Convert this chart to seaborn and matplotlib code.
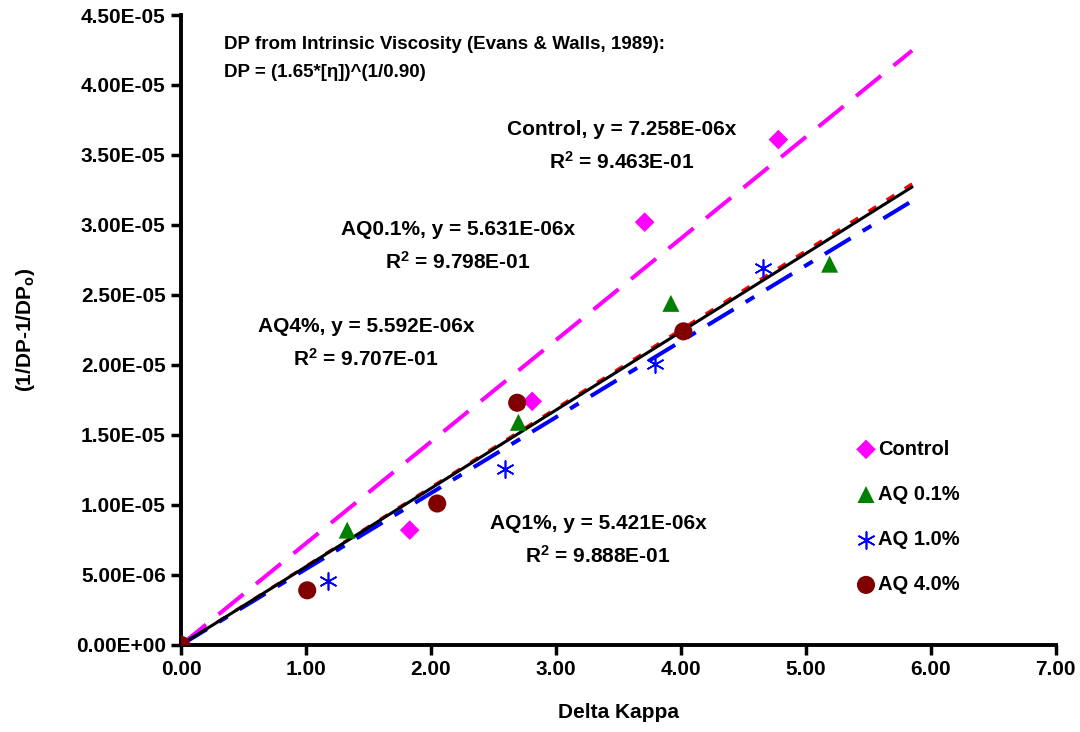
import numpy as np
import pandas as pd
import matplotlib
matplotlib.use('Agg')
import matplotlib.pyplot as plt
import seaborn as sns

# measured points (Delta Kappa, 1/DP - 1/DPo)
control_x = [0.0, 1.83, 2.81, 3.71, 4.78]
control_y = [0.0, 8.2e-6, 1.74e-5, 3.02e-5, 3.61e-5]
aq01_x = [0.0, 1.33, 2.70, 3.92, 5.19]
aq01_y = [0.0, 8.2e-6, 1.59e-5, 2.44e-5, 2.72e-5]
aq10_x = [0.0, 1.18, 2.59, 3.79, 4.66]
aq10_y = [0.0, 4.6e-6, 1.26e-5, 2.01e-5, 2.69e-5]
aq40_x = [0.0, 1.01, 2.05, 2.69, 4.02]
aq40_y = [0.0, 3.9e-6, 1.01e-5, 1.73e-5, 2.24e-5]

series_names = ['Control', 'AQ 0.1%', 'AQ 1.0%', 'AQ 4.0%']
# trendline slopes (forced through origin) and R^2 from the labels
slopes = [7.258e-6, 5.631e-6, 5.421e-6, 5.592e-6]
r2 = ['9.463E-01', '9.798E-01', '9.888E-01', '9.707E-01']
fit_x = [0.0, 5.85]

x_ticks = [0, 1, 2, 3, 4, 5, 6, 7]
y_ticks = [0, 5e-6, 1e-5, 1.5e-5, 2e-5, 2.5e-5, 3e-5, 3.5e-5, 4e-5, 4.5e-5]

sns.set_style('white')
plt.rcParams['font.family'] = ['Liberation Sans', 'DejaVu Sans']
plt.rcParams['font.weight'] = 'bold'
plt.rcParams['text.color'] = 'black'
plt.rcParams['axes.labelcolor'] = 'black'
plt.rcParams['xtick.color'] = 'black'
plt.rcParams['ytick.color'] = 'black'
plt.rcParams['mathtext.fontset'] = 'custom'
plt.rcParams['mathtext.rm'] = 'Liberation Sans:bold'
plt.rcParams['mathtext.bf'] = 'Liberation Sans:bold'
plt.rcParams['mathtext.it'] = 'Liberation Sans:bold'

fig = plt.figure(figsize=(10.8, 7.32), dpi=100)
ax = fig.add_axes([0.1676, 0.119, 0.81, 0.8605])

# trendlines
line_styles = [
    dict(color='#FF00FF', lw=2.9, ls=(0, (8, 4))),
    dict(color='#FF0000', lw=2.2, ls=(0, (3, 4))),
    dict(color='#0000FF', lw=2.9, ls=(0, (7.5, 3.5, 2.5, 3.5))),
    dict(color='black', lw=2.2, ls='-'),
]
fx = np.array(fit_x)
for slope, st in zip(slopes, line_styles):
    sns.lineplot(x=fx, y=slope * fx, ax=ax, color=st['color'], lw=st['lw'],
                 linestyle=st['ls'], zorder=2)

# points
pts = pd.DataFrame({
    'x': control_x + aq01_x + aq10_x + aq40_x,
    'y': control_y + aq01_y + aq10_y + aq40_y,
    'series': np.repeat(series_names, 5),
})
marker_map = {'Control': 'D', 'AQ 0.1%': '^', 'AQ 1.0%': (6, 2, 0), 'AQ 4.0%': 'o'}
color_map = {'Control': '#FF00FF', 'AQ 0.1%': '#008000', 'AQ 1.0%': '#0000FF', 'AQ 4.0%': '#800000'}
size_map = {'Control': 100, 'AQ 0.1%': 150, 'AQ 1.0%': 150, 'AQ 4.0%': 170}
for name in series_names:
    d = pts[pts['series'] == name]
    if name == 'AQ 1.0%':
        sns.scatterplot(data=d, x='x', y='y', ax=ax, marker=marker_map[name],
                        color=color_map[name], edgecolor=color_map[name],
                        s=size_map[name], linewidth=1.2, label=name, zorder=3)
    else:
        sns.scatterplot(data=d, x='x', y='y', ax=ax, marker=marker_map[name],
                        color=color_map[name], edgecolor='none',
                        s=size_map[name], label=name, zorder=3)

ax.set_xlim(0, 7)
ax.set_ylim(0, 4.5e-5)
ax.set_xticks(x_ticks)
ax.set_yticks(y_ticks)
ax.set_xticklabels(['%.2f' % v for v in x_ticks])
ax.set_yticklabels(['%.2E' % v for v in y_ticks])
ax.tick_params(bottom=True, left=True, direction='out', length=7, width=2.5,
               labelsize=15, pad=4, colors='black')
for s in ['top', 'right']:
    ax.spines[s].set_visible(False)
for s in ['left', 'bottom']:
    ax.spines[s].set_linewidth(2.8)
    ax.spines[s].set_color('black')

ax.set_xlabel('Delta Kappa', fontsize=15, fontweight='bold', labelpad=17)
ax.set_ylabel(r'(1/DP-1/DP$_{\mathrm{o}}$)', fontsize=15, fontweight='bold', labelpad=28)

# annotations
def fx_ax(px):
    return (px - 181) / 875.0

def fy_ax(py):
    return (645 - py) / 630.0

ax.text(fx_ax(224), fy_ax(44), 'DP from Intrinsic Viscosity (Evans & Walls, 1989):',
        transform=ax.transAxes, ha='left', va='center', fontsize=13.5)
ax.text(fx_ax(224), fy_ax(73), 'DP = (1.65*[\u03b7])^(1/0.90)',
        transform=ax.transAxes, ha='left', va='center', fontsize=13.5)

eq_labels = ['Control', 'AQ0.1%', 'AQ1%', 'AQ4%']
eq_pos = [(622, 130), (458, 230), (598, 524), (366, 327)]
for lab, slope, rr, (px, py) in zip(eq_labels, slopes, r2, eq_pos):
    ax.text(fx_ax(px), fy_ax(py), '%s, y = %.3Ex' % (lab, slope),
            transform=ax.transAxes, ha='center', va='center', fontsize=15)
    ax.text(fx_ax(px), fy_ax(py + 32), r'R$^{2}$ = %s' % rr,
            transform=ax.transAxes, ha='center', va='center', fontsize=15)

leg = ax.legend(loc='center left', bbox_to_anchor=(fx_ax(846), fy_ax(517)),
                frameon=False, fontsize=14.5, labelspacing=1.3,
                handletextpad=0.0, handlelength=1.2, borderaxespad=0)

fig.savefig('out.png', dpi=100)
